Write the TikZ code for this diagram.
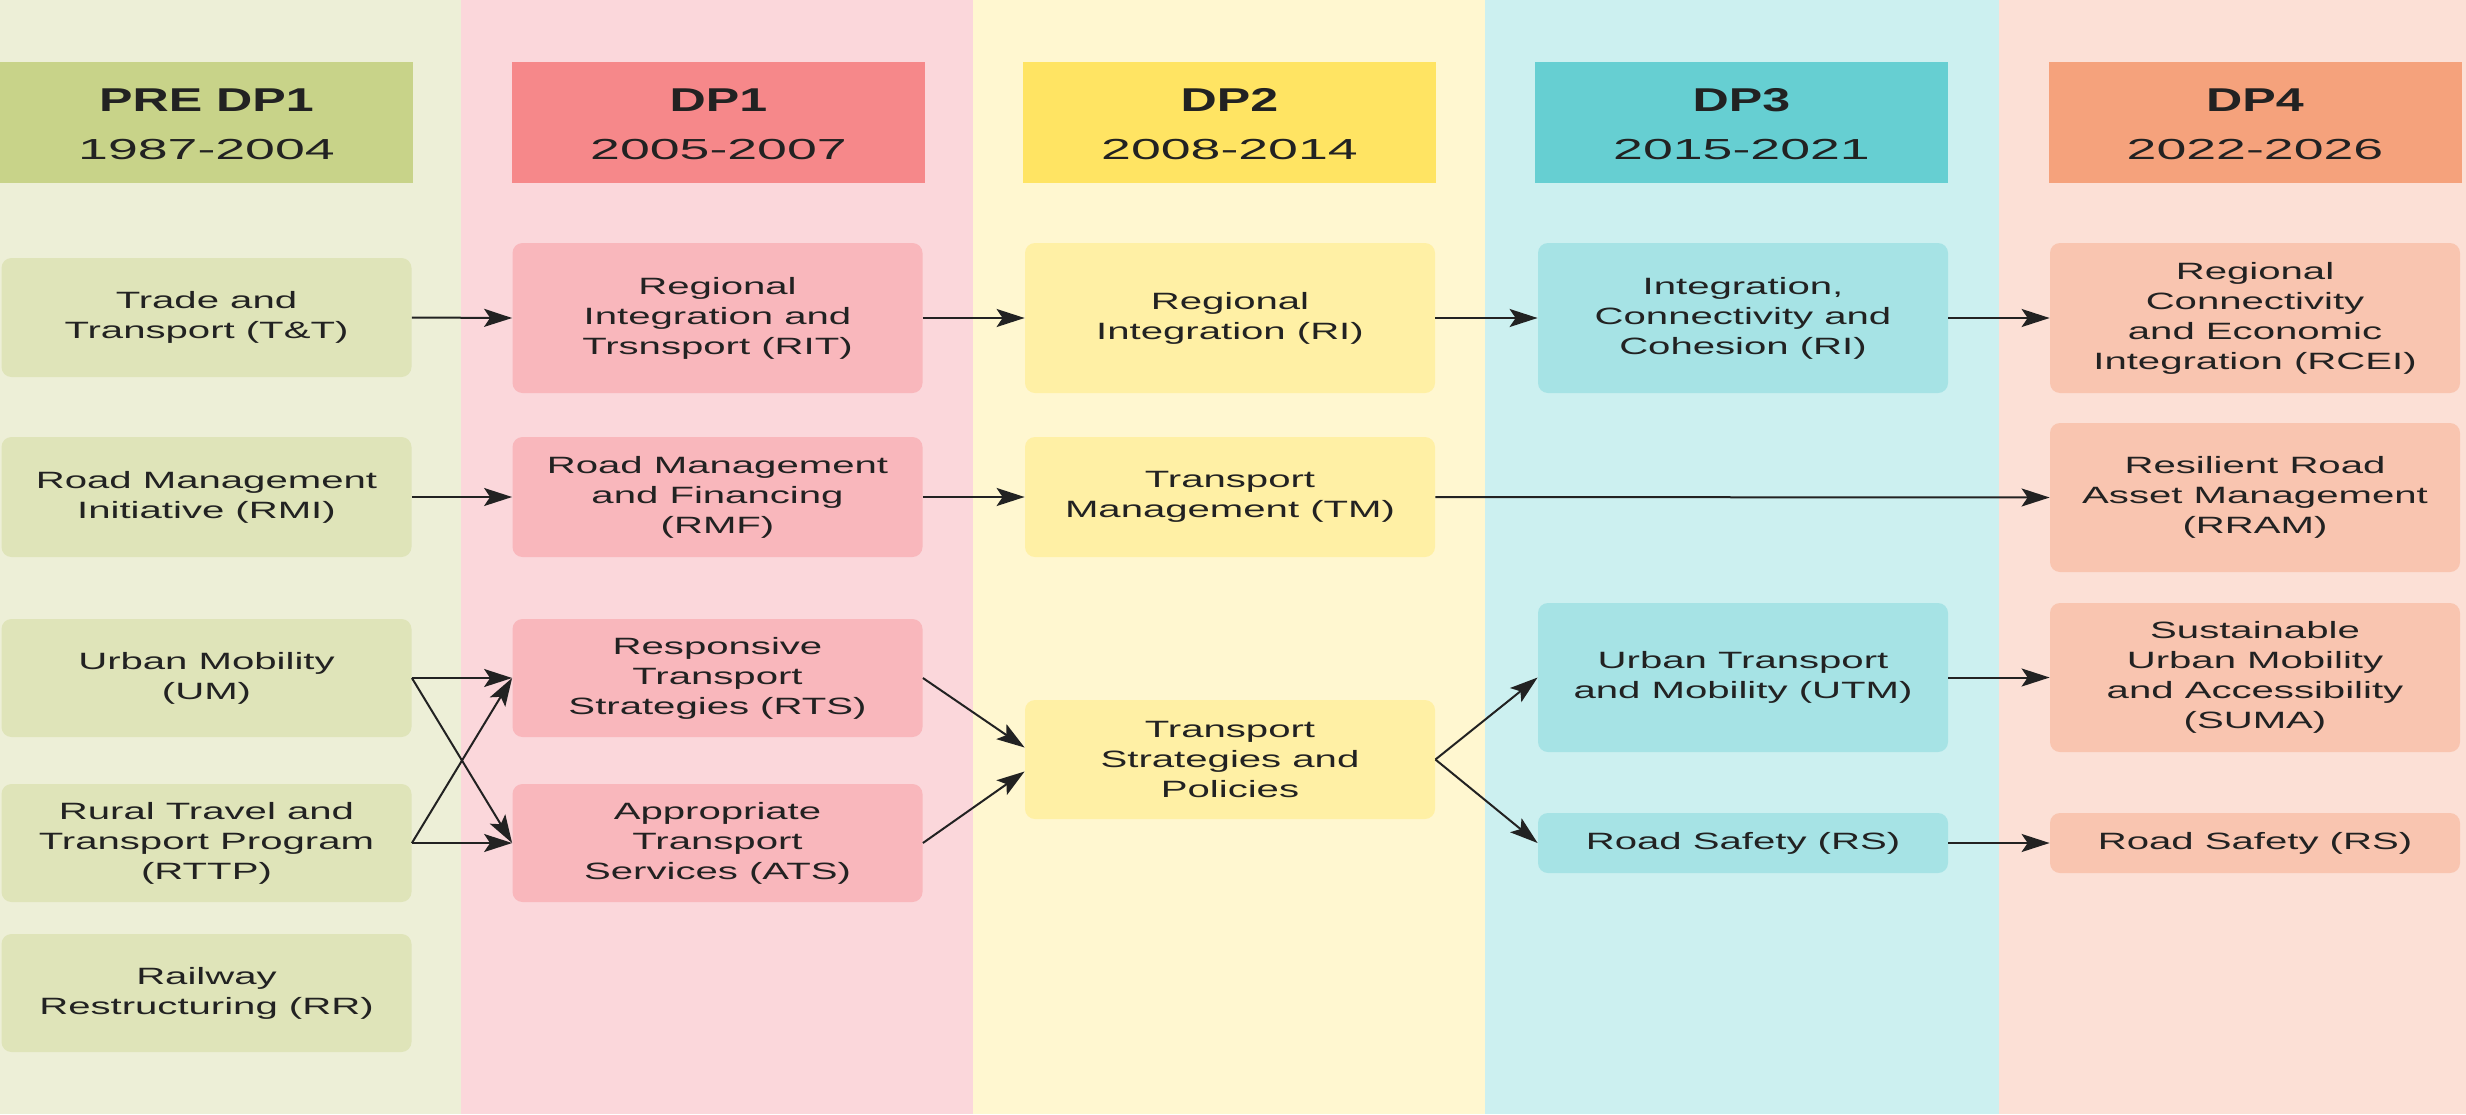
\documentclass[tikz,border=0pt]{standalone}
\usepackage{fontspec}
\setmainfont{Liberation Sans}
\newfontfamily\bodyfont[FakeStretch=1.7]{Liberation Sans}
\newfontfamily\headfont[FakeStretch=1.52]{Liberation Sans}
\newfontfamily\yearfont[FakeStretch=1.85]{Liberation Sans}
\usetikzlibrary{arrows.meta,calc}
\definecolor{txt}{HTML}{222222}
\definecolor{bgA}{HTML}{EDEFD7}\definecolor{hdA}{HTML}{C8D389}\definecolor{bxA}{HTML}{DFE4B9}
\definecolor{bgB}{HTML}{FBD7DB}\definecolor{hdB}{HTML}{F6888A}\definecolor{bxB}{HTML}{F9B7BC}
\definecolor{bgC}{HTML}{FFF7D0}\definecolor{hdC}{HTML}{FFE463}\definecolor{bxC}{HTML}{FFF0A5}
\definecolor{bgD}{HTML}{CCF0F0}\definecolor{hdD}{HTML}{66CFD2}\definecolor{bxD}{HTML}{A6E3E5}
\definecolor{bgE}{HTML}{FCE0D6}\definecolor{hdE}{HTML}{F5A27C}\definecolor{bxE}{HTML}{F9C5B0}
\definecolor{arr}{HTML}{222222}
\begin{document}
\begin{tikzpicture}[x=0.5pt,y=-0.5pt,
  hdbox/.style={rectangle,minimum width=206.5pt,minimum height=60.5pt,inner sep=0pt},
  title/.style={anchor=base,text=txt,font=\headfont\bfseries\fontsize{16.5}{20}\selectfont},
  year/.style={anchor=base,text=txt,font=\yearfont\fontsize{14.5}{18}\selectfont},
  box/.style={rectangle,rounded corners=5pt,minimum width=205pt,inner sep=0pt,align=center,
    text=txt,font=\bodyfont\fontsize{11.8}{15}\selectfont},
  conn/.style={draw=arr,line width=1pt,-{Stealth[length=14pt,width=9pt,inset=3pt]}}]
\useasboundingbox (0,0) rectangle (2466,1114);
% column backgrounds
\fill[bgA] (0,0) rectangle (461,1114);
\fill[bgB] (461,0) rectangle (973,1114);
\fill[bgC] (973,0) rectangle (1485,1114);
\fill[bgD] (1485,0) rectangle (1999,1114);
\fill[bgE] (1999,0) rectangle (2466,1114);
% headers
\node[hdbox,fill=hdA] (hA) at (206.5,122.5) {};
\node[hdbox,fill=hdB] (hB) at (718.5,122.5) {};
\node[hdbox,fill=hdC] (hC) at (1229.5,122.5) {};
\node[hdbox,fill=hdD] (hD) at (1741.5,122.5) {};
\node[hdbox,fill=hdE] (hE) at (2255,122.5) {};
\node[title] (tA) at (206.5,111) {PRE DP1};
\node[title] (tB) at (718.5,111) {DP1};
\node[title] (tC) at (1229.5,111) {DP2};
\node[title] (tD) at (1741.5,111) {DP3};
\node[title] (tE) at (2255,111) {DP4};
\node[year] (yA) at (206.5,159) {1987-2004};
\node[year] (yB) at (718.5,159) {2005-2007};
\node[year] (yC) at (1229.5,159) {2008-2014};
\node[year] (yD) at (1741.5,159) {2015-2021};
\node[year] (yE) at (2255,159) {2022-2026};
% PRE DP1 boxes
\node[box,fill=bxA,minimum height=59.5pt] (TT) at (206.5,317.5) {Trade and\\Transport (T\&T)};
\node[box,fill=bxA,minimum height=60pt] (RMI) at (206.5,497) {Road Management\\Initiative (RMI)};
\node[box,fill=bxA,minimum height=59pt] (UM) at (206.5,678) {Urban Mobility\\(UM)};
\node[box,fill=bxA,minimum height=59pt] (RTTP) at (206.5,843) {Rural Travel and\\Transport Program\\(RTTP)};
\node[box,fill=bxA,minimum height=59pt] (RR) at (206.5,993) {Railway\\Restructuring (RR)};
% DP1 boxes
\node[box,fill=bxB,minimum height=75pt] (RIT) at (717.5,318) {Regional\\Integration and\\Trsnsport (RIT)};
\node[box,fill=bxB,minimum height=60pt] (RMF) at (717.5,497) {Road Management\\and Financing\\(RMF)};
\node[box,fill=bxB,minimum height=59pt] (RTS) at (717.5,678) {Responsive\\Transport\\Strategies (RTS)};
\node[box,fill=bxB,minimum height=59pt] (ATS) at (717.5,843) {Appropriate\\Transport\\Services (ATS)};
% DP2 boxes
\node[box,fill=bxC,minimum height=75pt] (RI) at (1230,318) {Regional\\Integration (RI)};
\node[box,fill=bxC,minimum height=60pt] (TM) at (1230,497) {Transport\\Management (TM)};
\node[box,fill=bxC,minimum height=59.5pt] (TSP) at (1230,759.5) {Transport\\Strategies and\\Policies};
% DP3 boxes
\node[box,fill=bxD,minimum height=75pt] (ICC) at (1743,318) {Integration,\\Connectivity and\\Cohesion (RI)};
\node[box,fill=bxD,minimum height=74.5pt] (UTM) at (1743,677.5) {Urban Transport\\and Mobility (UTM)};
\node[box,fill=bxD,minimum height=30pt] (RSa) at (1743,843) {Road Safety (RS)};
% DP4 boxes
\node[box,fill=bxE,minimum height=75pt] (RCEI) at (2255,318) {Regional\\Connectivity\\and Economic\\Integration (RCEI)};
\node[box,fill=bxE,minimum height=74.5pt] (RRAM) at (2255,497.5) {Resilient Road\\Asset Management\\(RRAM)};
\node[box,fill=bxE,minimum height=74.5pt] (SUMA) at (2255,677.5) {Sustainable\\Urban Mobility\\and Accessibility\\(SUMA)};
\node[box,fill=bxE,minimum height=30pt] (RSb) at (2255,843) {Road Safety (RS)};
% connectors
\draw[conn] (TT.east) -- (RIT.west);
\draw[conn] (RIT.east) -- (RI.west);
\draw[conn] (RI.east) -- (ICC.west);
\draw[conn] (ICC.east) -- (RCEI.west);
\draw[conn] (RMI.east) -- (RMF.west);
\draw[conn] (RMF.east) -- (TM.west);
\draw[conn] (TM.east) -- (RRAM.west);
\draw[conn] (UM.east) -- (RTS.west);
\draw[conn] (UM.east) -- (ATS.west);
\draw[conn] (RTTP.east) -- (RTS.west);
\draw[conn] (RTTP.east) -- (ATS.west);
\draw[conn] (RTS.east) -- ([yshift=6pt]TSP.west);
\draw[conn] (ATS.east) -- ([yshift=-6pt]TSP.west);
\draw[conn] (TSP.east) -- (UTM.west);
\draw[conn] (TSP.east) -- (RSa.west);
\draw[conn] (UTM.east) -- (SUMA.west);
\draw[conn] (RSa.east) -- (RSb.west);
\end{tikzpicture}
\end{document}
